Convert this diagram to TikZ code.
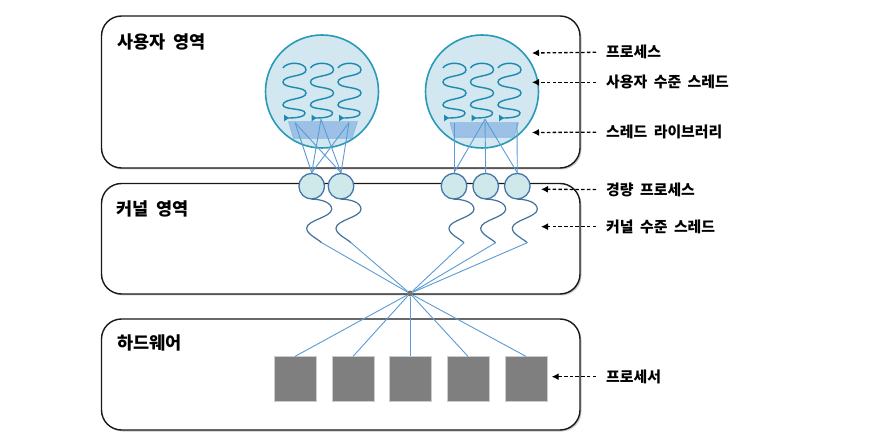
\documentclass[tikz,border=0pt]{standalone}
\usepackage{fontspec}
\newfontfamily\kr{Noto Sans CJK KR}[WordSpace=1.9]
\usetikzlibrary{shadows,arrows.meta}
\definecolor{procfill}{HTML}{D2E7EF}
\definecolor{procline}{HTML}{2B9AB8}
\definecolor{thr}{HTML}{1A8AB0}
\definecolor{libfill}{HTML}{7AA9E0}
\definecolor{link}{HTML}{5B9BD5}
\definecolor{lwpfill}{HTML}{CFE8EA}
\definecolor{lwpline}{HTML}{4477A8}
\definecolor{kthr}{HTML}{41719C}
\definecolor{cpu}{HTML}{7F7F7F}
\begin{document}
\begin{tikzpicture}[x=1pt,y=-1pt,
  region/.style={draw=black!90, line width=1.4pt, rounded corners=20pt, fill=white,
    drop shadow={shadow xshift=1.5pt, shadow yshift=-1.5pt, opacity=0.35, fill=black!60}},
  title/.style={font=\kr\bfseries\fontsize{17.5}{20}\selectfont, anchor=west, inner sep=0pt},
  lbl/.style={font=\kr\bfseries\fontsize{14.9}{17}\selectfont, anchor=west, inner xsep=10pt, inner ysep=0pt},
  dasharrow/.style={draw=black, line width=1.3pt, dash pattern=on 3.5pt off 2.2pt, -{Latex[length=7pt,width=7pt]}},
  process/.style={circle, draw=procline, line width=1.6pt, fill=procfill, minimum size=113pt, inner sep=0pt},
  threadline/.style={draw=thr, line width=1.4pt, -{Triangle[reversed,length=5pt,width=6.5pt]}},
  library/.style={fill=libfill, fill opacity=0.6, draw=link, draw opacity=0.5, line width=0.6pt},
  linkline/.style={draw=link, line width=0.9pt},
  lwp/.style={circle, draw=lwpline, line width=1.3pt, fill=lwpfill, minimum size=25.6pt, inner sep=0pt},
  kline/.style={draw=kthr, line width=1.2pt},
  proc/.style={rectangle, fill=cpu, draw=black!20, line width=0.8pt, minimum width=42pt, minimum height=45pt, inner sep=0pt},
  uthread/.pic={
    \draw[threadline] (0,5) .. controls (4,-2) and (23,-1) .. (23,7)
      .. controls (23,14) and (0,12) .. (0,19)
      .. controls (0,26) and (23,23) .. (23,30)
      .. controls (23,37) and (0,35) .. (0,42)
      .. controls (0,47) and (22,45) .. (22,50)
      .. controls (22,55) and (8,55) .. (1,55);
  },
  kthread/.pic={
    \draw[kline] (0,13) .. controls (9,13) and (20,16) .. (20,23)
      .. controls (20,31) and (-5,34) .. (-5,42)
      .. controls (-5,48) and (5,52) .. (10,56.5);
    \coordinate (-end) at (10,56.5);
  }]
\useasboundingbox (0,0) rectangle (881,438);

% regions
\draw[region] (101.5,16) rectangle (580,168);
\draw[region] (101.5,183.5) rectangle (580,294);
\draw[region] (101.5,319) rectangle (580,430);

\node[title] (tuser) at (117,41.7) {사용자 영역};
\node[title] (tkern) at (116,209.3) {커널 영역};
\node[title] (thw) at (117,342.7) {하드웨어};

% processes
\node[process] (P1) at (322,91.5) {};
\node[process] (P2) at (482,91.5) {};

\pic at (283,63) {uthread};
\pic at (310.5,63) {uthread};
\pic at (338,63) {uthread};
\pic at (443,63) {uthread};
\pic at (470.5,63) {uthread};
\pic at (498,63) {uthread};

% thread libraries
\path[library] (288.5,121.7) -- (357.5,121.7) -- (352,138.3) -- (293.5,138.3) -- cycle;
\path[library] (450,122.7) -- (518.5,122.7) -- (514,137.3) -- (454,137.3) -- cycle;

% LWPs
\node[lwp] (l1) at (311.7,186.2) {};
\node[lwp] (l2) at (341,186.2) {};
\node[lwp] (l3) at (454,186.2) {};
\node[lwp] (l4) at (485.7,186.2) {};
\node[lwp] (l5) at (517.3,186.2) {};

% user-thread to LWP links
\coordinate (a1) at (295,122.7);
\coordinate (a2) at (321,119.3);
\coordinate (a3) at (349,122.7);
\coordinate (b1) at (454,123);
\coordinate (b2) at (485,119.3);
\coordinate (b3) at (517,123);
\foreach \s in {a1,a2,a3}{
  \draw[linkline] (\s) -- (l1.north);
  \draw[linkline] (\s) -- (l2.north);
}
\draw[linkline] (b1) -- (l3.north);
\draw[linkline] (b2) -- (l3.north);
\draw[linkline] (b2) -- (l4.north);
\draw[linkline] (b2) -- (l5.north);
\draw[linkline] (b3) -- (l5.north);

% kernel threads
\pic (k1) at (l1.center) {kthread};
\pic (k2) at (l2.center) {kthread};
\pic (k3) at (l3.center) {kthread};
\pic (k4) at (l4.center) {kthread};
\pic (k5) at (l5.center) {kthread};

\node[circle, fill=black!55, minimum size=6pt, inner sep=0pt] (dot) at (410,293.5) {};
\foreach \k in {k1,k2,k3,k4,k5}{
  \draw[linkline] (\k-end) -- (dot);
}

% processors
\foreach \i/\x in {1/295,2/353,3/410,4/468,5/526}{
  \node[proc] (p\i) at (\x,379.3) {};
  \draw[linkline] (dot) -- (p\i.north);
}

% right labels
\node[lbl] (n1) at (596,52.3) {프로세스};
\node[lbl] (n2) at (596,82.3) {사용자 수준 스레드};
\node[lbl] (n3) at (596,132.2) {스레드 라이브러리};
\node[lbl] (n4) at (596,189.5) {경량 프로세스};
\node[lbl] (n5) at (596,226.7) {커널 수준 스레드};
\node[lbl] (n6) at (596,376.7) {프로세서};

\coordinate (e1) at (532,53);
\coordinate (e2) at (532,82.3);
\coordinate (e3) at (532,132.5);
\coordinate (e4) at (541,189.3);
\coordinate (e5) at (541,226.7);
\coordinate (e6) at (551.7,376.7);
\foreach \i in {1,...,6}{
  \draw[dasharrow] (n\i.west) -- (e\i);
}
\end{tikzpicture}
\end{document}
